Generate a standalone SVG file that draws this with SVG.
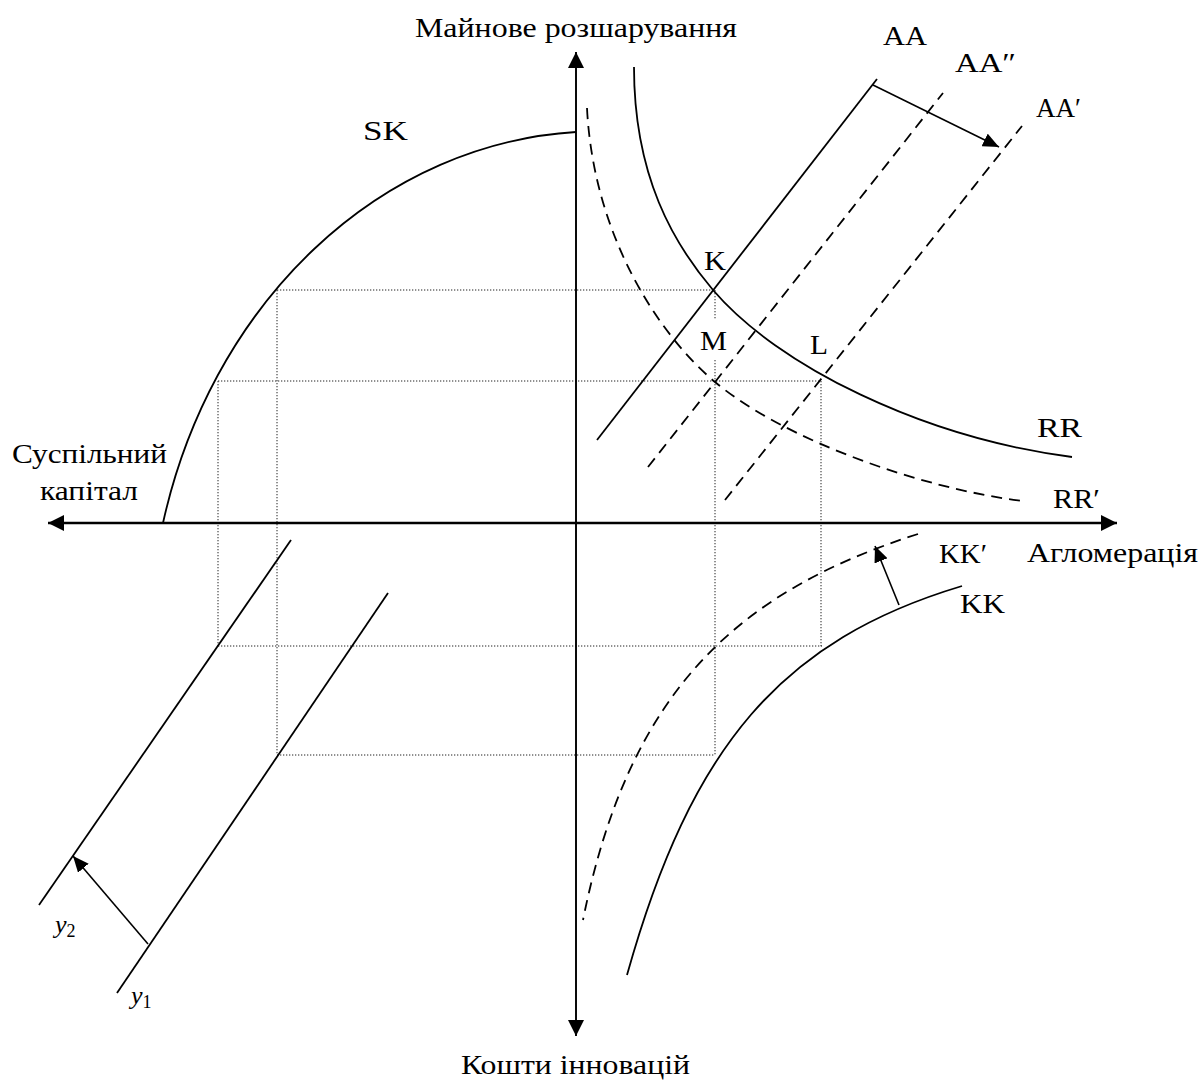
<svg xmlns="http://www.w3.org/2000/svg" width="1203" height="1080" viewBox="0 0 1203 1080">
<style>
text{font-family:"Liberation Serif","DejaVu Serif",serif;font-size:28px;fill:#000}
.s{fill:none;stroke:#000;stroke-width:1.8}
.d{fill:none;stroke:#000;stroke-width:1.8;stroke-dasharray:11,7}
.o{fill:none;stroke:#222;stroke-width:1;stroke-dasharray:1.3,1.7}
.ax{fill:none;stroke:#000}
</style>
<defs>
<marker id="ah" viewBox="0 0 16 16" refX="16" refY="8" markerWidth="16" markerHeight="16" orient="auto" markerUnits="userSpaceOnUse"><path d="M0,0 L16,8 L0,16 z" fill="#000"/></marker>
<marker id="sh" viewBox="0 0 16 14" refX="16" refY="7" markerWidth="16" markerHeight="14" orient="auto" markerUnits="userSpaceOnUse"><path d="M0,0 L16,7 L0,14 z" fill="#000"/></marker>
</defs>
<rect width="1203" height="1080" fill="#fff"/>
<g id="guides">
<line class="o" x1="277" y1="290" x2="713" y2="290"/>
<line class="o" x1="218" y1="381" x2="821" y2="381"/>
<line class="o" x1="277" y1="290" x2="277" y2="755"/>
<line class="o" x1="218" y1="381" x2="218" y2="646"/>
<line class="o" x1="715" y1="290" x2="715" y2="320"/>
<line class="o" x1="715" y1="360" x2="715" y2="755"/>
<line class="o" x1="821" y1="381" x2="821" y2="647"/>
<line class="o" x1="218" y1="646" x2="822" y2="646"/>
<line class="o" x1="277" y1="755" x2="715" y2="755"/>
</g>
<g id="SK"><path class="s" d="M163,523 A450.5,520 0 0 1 576,132"/><text x="363" y="140" textLength="45" lengthAdjust="spacingAndGlyphs">SK</text></g>
<g id="RR"><path class="s" d="M634,67 C634,177 674,244 713,290 C778,366 922,437.5 1072,457"/><text x="1037" y="437" textLength="45" lengthAdjust="spacingAndGlyphs">RR</text></g>
<g id="RRp"><path class="d" d="M587,108 C593.5,238 661,337 715,382 C784,440 923,489 1023,501"/><text x="1053" y="508" textLength="47" lengthAdjust="spacingAndGlyphs">RR′</text></g>
<g id="AA"><line class="s" x1="597" y1="440" x2="877" y2="79"/><text x="883" y="45" textLength="44" lengthAdjust="spacingAndGlyphs">AA</text></g>
<g id="AApp"><line class="d" x1="648" y1="467" x2="943" y2="93"/><text x="955" y="72" textLength="61" lengthAdjust="spacingAndGlyphs">AA″</text></g>
<g id="AAp"><line class="d" x1="725" y1="500" x2="1022" y2="126"/><text x="1036" y="117" textLength="45" lengthAdjust="spacingAndGlyphs">AA′</text></g>
<g id="KK"><path class="s" d="M962,586 C782,640 691.4,745 627,975"/><text x="960" y="613" textLength="45" lengthAdjust="spacingAndGlyphs">KK</text></g>
<g id="KKp"><path class="d" d="M918,534 C738,591.6 629,690 583,920"/><text x="939" y="563" textLength="48" lengthAdjust="spacingAndGlyphs">KK′</text></g>
<g id="y1"><line class="s" x1="388" y1="593" x2="117" y2="993"/><text x="131" y="1004" style="font-size:26px;font-style:italic">y<tspan style="font-size:18px;font-style:normal" dy="4">1</tspan></text></g>
<g id="y2"><line class="s" x1="291" y1="540" x2="39" y2="905"/><text x="55" y="933" style="font-size:26px;font-style:italic">y<tspan style="font-size:18px;font-style:normal" dy="4">2</tspan></text></g>
<g id="points">
<text x="704" y="270" textLength="22" lengthAdjust="spacingAndGlyphs">K</text>
<text x="700" y="350" textLength="27" lengthAdjust="spacingAndGlyphs">M</text>
<text x="810" y="354" textLength="18" lengthAdjust="spacingAndGlyphs">L</text>
</g>
<g id="axis-labels">
<text x="415" y="37" textLength="322" lengthAdjust="spacingAndGlyphs">Майнове розшарування</text>
<text x="461" y="1074" textLength="229" lengthAdjust="spacingAndGlyphs">Кошти інновацій</text>
<text x="12" y="463" textLength="155" lengthAdjust="spacingAndGlyphs">Суспільний</text>
<text x="40" y="500" textLength="98" lengthAdjust="spacingAndGlyphs">капітал</text>
<text x="1027" y="562" textLength="171" lengthAdjust="spacingAndGlyphs">Агломерація</text>
</g>
<g id="connectors">
<line class="ax" stroke-width="1.6" x1="576" y1="1036" x2="576" y2="52" marker-end="url(#ah)"/>
<line class="ax" stroke-width="1.6" x1="576" y1="52" x2="576" y2="1036" marker-end="url(#ah)"/>
<line class="ax" stroke-width="2.4" x1="576" y1="523" x2="1117" y2="523" marker-end="url(#ah)"/>
<line class="ax" stroke-width="2.4" x1="576" y1="523" x2="48" y2="523" marker-end="url(#ah)"/>
<line class="ax" stroke-width="1.6" x1="873" y1="85" x2="999" y2="147" marker-end="url(#sh)"/>
<line class="ax" stroke-width="1.6" x1="899" y1="605" x2="875" y2="546" marker-end="url(#sh)"/>
<line class="ax" stroke-width="1.6" x1="148" y1="944" x2="73" y2="856" marker-end="url(#sh)"/>
</g>
</svg>
